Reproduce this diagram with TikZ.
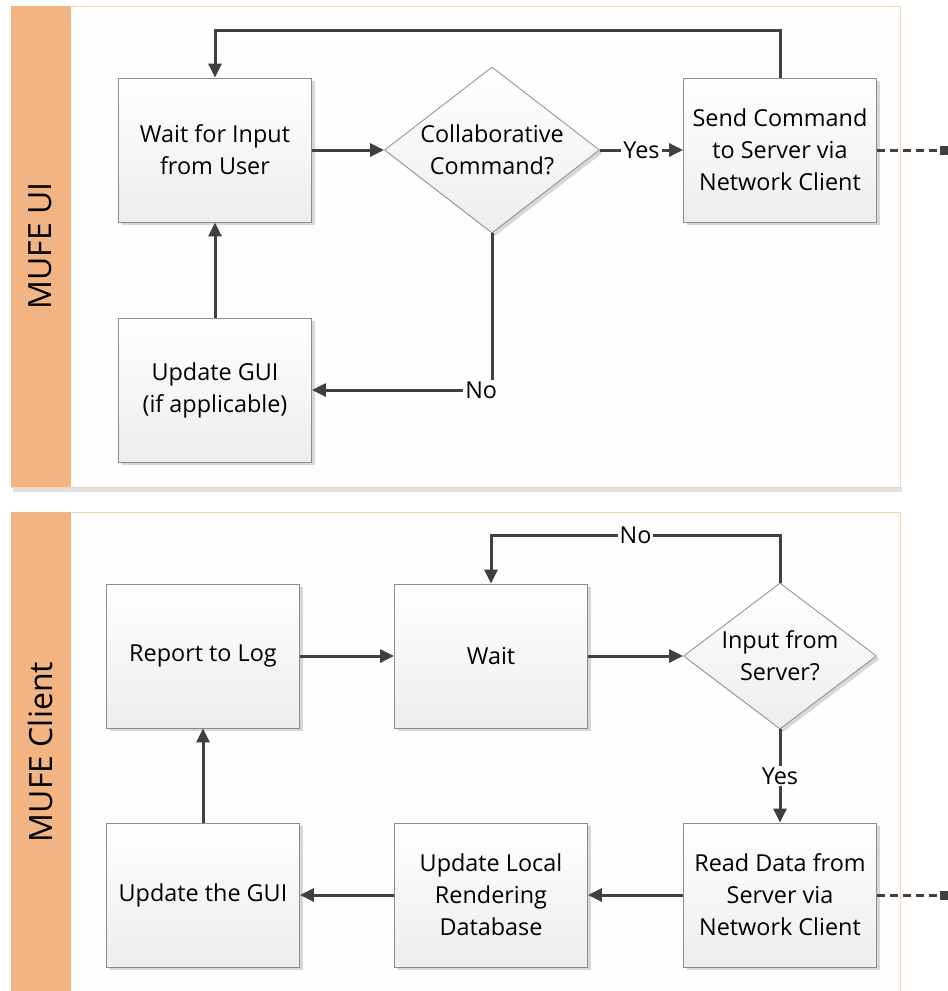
\documentclass[tikz,border=0pt]{standalone}
\usepackage{fontspec}
\setmainfont{Open Sans}
\usetikzlibrary{arrows.meta,shapes.geometric,shadows}
\definecolor{lanehead}{HTML}{F2B482}
\definecolor{laneline}{HTML}{F8D3B0}
\definecolor{lanefill}{HTML}{FEFEFE}
\definecolor{boxline}{HTML}{8C8C8C}
\definecolor{flowline}{HTML}{404040}
\tikzset{
	boxshadow/.style={drop shadow={shadow xshift=1.5pt, shadow yshift=-1.5pt, fill=black!30, opacity=0.5}},
	process/.style={rectangle, draw=boxline, top color=white, bottom color=black!7, minimum width=96.5pt, minimum height=72pt, align=center, font=\fontsize{11.7}{16}\selectfont, boxshadow},
	decision/.style={diamond, draw=boxline, top color=white, bottom color=black!7, inner xsep=-32pt, inner ysep=-14pt, align=center, font=\fontsize{11.7}{16}\selectfont, boxshadow},
	flow/.style={draw=flowline, line width=1.5pt, -{Triangle[length=7pt,width=6.5pt]}},
	link/.style={draw=flowline, line width=1.5pt, dash pattern=on 4pt off 2.5pt, -{Square[length=4pt,width=4.5pt]}},
	flowtext/.style={fill=lanefill, inner sep=1pt, font=\fontsize{11.7}{16}\selectfont},
	lanelabel/.style={rotate=90, font=\fontsize{16}{18}\selectfont}
}

\begin{document}
\begin{tikzpicture}[x=0.5pt, y=-0.5pt]
	\useasboundingbox (0,0) rectangle (948,991);
	\fill[black!12] (13,487) rectangle (902,492);
	\draw[laneline, fill=lanefill] (11,6) rectangle (900,487);
	\fill[lanehead] (11,6) rectangle (71,487);
	\draw[laneline, fill=lanefill] (11,512) rectangle (900,1000);
	\fill[lanehead] (11,512) rectangle (71,1000);
	\node[lanelabel] (uilane) at (40,246) {MUFE UI};
	\node[lanelabel] (clientlane) at (40,752) {MUFE Client};

	\node[process] (waitin) at (215,150) {Wait for Input\\from User};
	\node[decision, minimum width=107.5pt, minimum height=83pt] (collab) at (492,150) {Collaborative\\Command?};
	\node[process] (send) at (780,150) {Send Command\\to Server via\\Network Client};
	\node[process] (gui) at (215,390) {Update GUI\\(if applicable)};
	\coordinate (loopui) at (215,30);
	\coordinate (sendout) at (948,150);
	\draw[flow] (waitin) -- (collab);
	\draw[flow] (collab) -- (send) node[flowtext, midway] {Yes};
	\draw[flow] (send.north) |- (loopui) -- (waitin.north);
	\draw[flow] (collab.south) |- (gui.east) node[flowtext, pos=0.53] {No};
	\draw[flow] (gui) -- (waitin);
	\draw[link] (send) -- (sendout);

	\node[process] (report) at (203,656) {Report to Log};
	\node[process] (wait) at (491,656) {Wait};
	\node[decision, minimum width=96.5pt, minimum height=73pt] (input) at (780,656) {Input from\\Server?};
	\node[process] (read) at (780,895) {Read Data from\\Server via\\Network Client};
	\node[process] (local) at (491,895) {Update Local\\Rendering\\Database};
	\node[process] (thegui) at (203,895) {Update the GUI};
	\coordinate (loopclient) at (491,535);
	\coordinate (readout) at (948,895);
	\draw[flow] (report) -- (wait);
	\draw[flow] (wait) -- (input);
	\draw[flow] (input.north) |- (loopclient) node[flowtext, pos=0.75] {No} -- (wait.north);
	\draw[flow] (input) -- (read) node[flowtext, midway] {Yes};
	\draw[flow] (read) -- (local);
	\draw[flow] (local) -- (thegui);
	\draw[flow] (thegui) -- (report);
	\draw[link] (read) -- (readout);
\end{tikzpicture}
\end{document}
